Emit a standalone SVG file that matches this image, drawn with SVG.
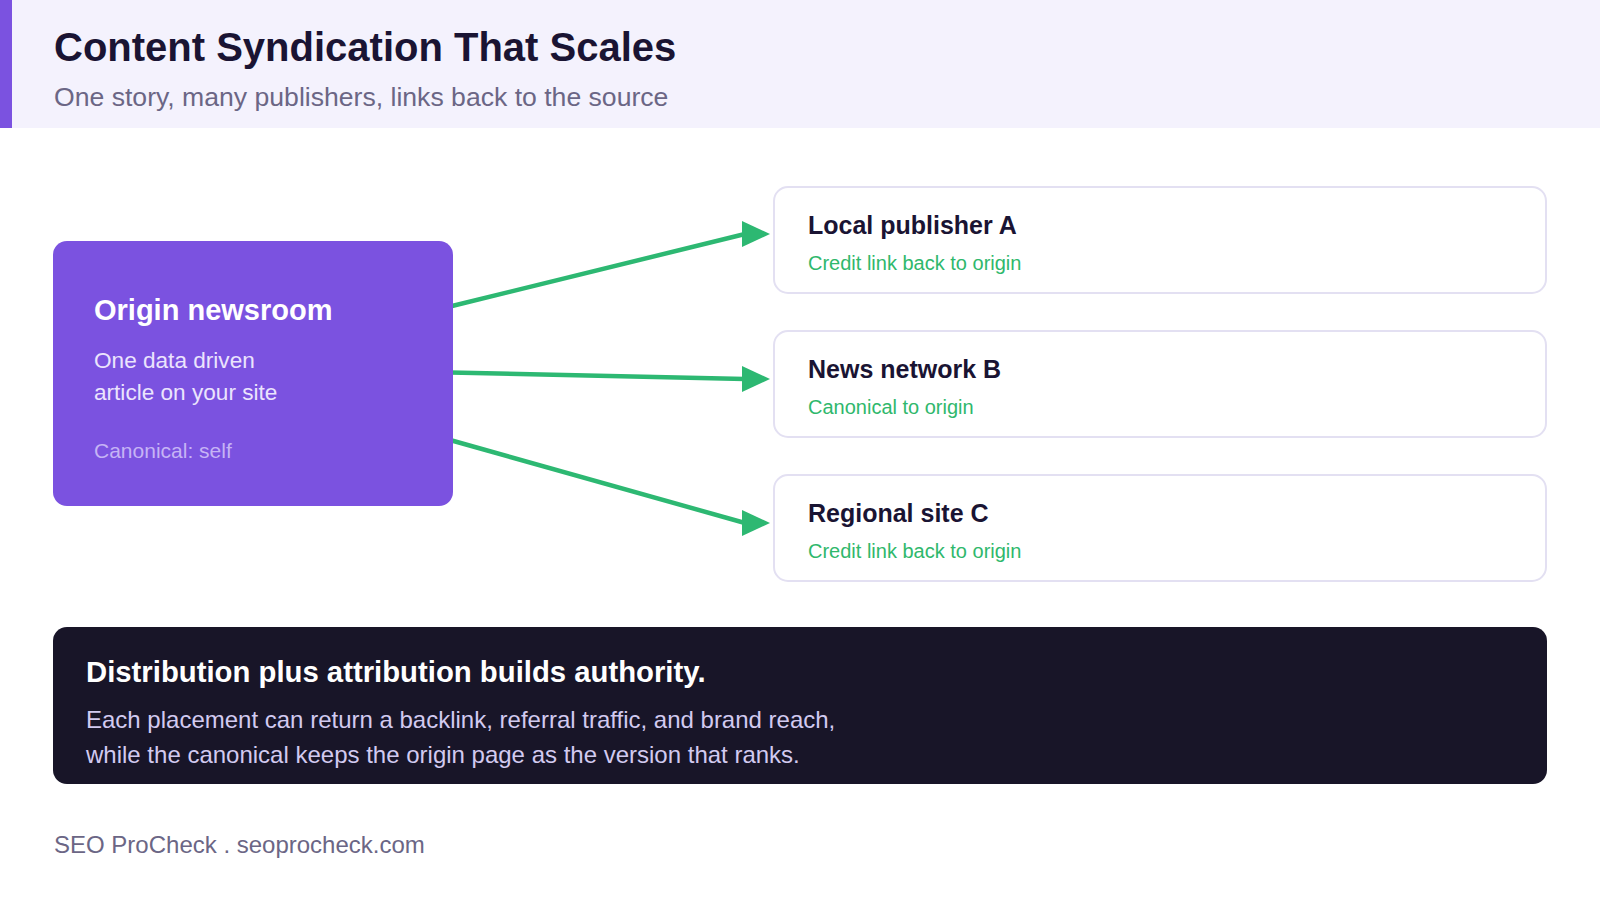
<svg xmlns="http://www.w3.org/2000/svg" width="1600" height="900" viewBox="0 0 1600 900">
<style>
text{font-family:"Liberation Sans",Arial,sans-serif}
.t{font-weight:700;fill:#1a1433}
.sub{fill:#6b6685}
.card{fill:#ffffff;stroke:#e3e0f2;stroke-width:2}
.ct{font-size:25px;font-weight:700;fill:#1a1433}
.cs{font-size:20px;fill:#2fb86c}
.conn line{stroke:#2db872;stroke-width:4.5;fill:none}
.conn polygon{fill:#2db872}
</style>
<rect x="0" y="0" width="1600" height="900" fill="#ffffff"/>
<g id="header">
<rect x="0" y="0" width="1600" height="128" fill="#f4f2fd"/>
<rect x="0" y="0" width="12" height="128" fill="#7b52e0"/>
<text class="t" x="54" y="61" font-size="40">Content Syndication That Scales</text>
<text class="sub" x="54" y="106" font-size="26.6">One story, many publishers, links back to the source</text>
</g>
<g id="connectors" class="conn">
<line x1="450" y1="306.5" x2="745" y2="234"/>
<polygon points="742,221 770,234 742,247"/>
<line x1="450" y1="372.5" x2="745" y2="379"/>
<polygon points="742,366 770,379 742,392"/>
<line x1="450" y1="440" x2="745" y2="523"/>
<polygon points="742,510 770,523 742,536"/>
</g>
<g id="origin">
<rect x="53" y="241" width="400" height="265" rx="14" fill="#7b52e0"/>
<text x="94" y="320" font-size="29" font-weight="700" fill="#ffffff">Origin newsroom</text>
<text x="94" y="368" font-size="22.6" fill="#ebe4fd">One data driven</text>
<text x="94" y="400" font-size="22.6" fill="#ebe4fd">article on your site</text>
<text x="94" y="458" font-size="21" fill="#c6b4f5">Canonical: self</text>
</g>
<g id="publisher-a">
<rect class="card" x="774" y="187" width="772" height="106" rx="14"/>
<text class="ct" x="808" y="234">Local publisher A</text>
<text class="cs" x="808" y="270">Credit link back to origin</text>
</g>
<g id="network-b">
<rect class="card" x="774" y="331" width="772" height="106" rx="14"/>
<text class="ct" x="808" y="378">News network B</text>
<text class="cs" x="808" y="414">Canonical to origin</text>
</g>
<g id="regional-c">
<rect class="card" x="774" y="475" width="772" height="106" rx="14"/>
<text class="ct" x="808" y="522">Regional site C</text>
<text class="cs" x="808" y="558">Credit link back to origin</text>
</g>
<g id="summary">
<rect x="53" y="627" width="1494" height="157" rx="14" fill="#181528"/>
<text x="86" y="682" font-size="29.3" font-weight="700" fill="#ffffff">Distribution plus attribution builds authority.</text>
<text x="86" y="728" font-size="24" fill="#d2caf0">Each placement can return a backlink, referral traffic, and brand reach,</text>
<text x="86" y="763" font-size="24" fill="#d2caf0">while the canonical keeps the origin page as the version that ranks.</text>
</g>
<g id="footer">
<text class="sub" x="54" y="853" font-size="24">SEO ProCheck . seoprocheck.com</text>
</g>
</svg>
